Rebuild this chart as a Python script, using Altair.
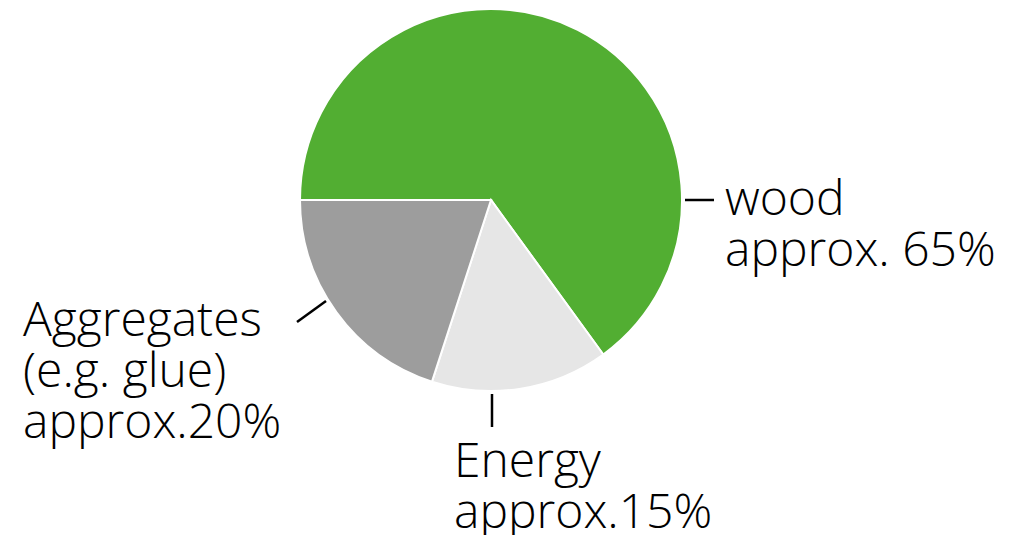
import math
import altair as alt
import pandas as pd

categories = ["wood", "Energy", "Aggregates"]
shares = [65, 15, 20]
colors = ["#52AE32", "#E6E6E6", "#9D9D9D"]
labels = ["wood\napprox. 65%", "Energy\napprox.15%", "Aggregates\n(e.g. glue)\napprox.20%"]

df = pd.DataFrame({
    "category": categories,
    "share": shares,
    "idx": list(range(len(categories))),
    "label": labels,
})

base = alt.Chart(df)
start = 1.5 * math.pi

pie = base.mark_arc(radius=191, stroke="white", strokeWidth=2).encode(
    theta=alt.Theta("share:Q", stack=True, scale=alt.Scale(range=[start, start + 2 * math.pi])),
    order=alt.Order("idx:Q"),
    color=alt.Color("category:N", scale=alt.Scale(domain=categories, range=colors), legend=None),
    x=alt.value(491),
    y=alt.value(200),
)

FONT = "Open Sans"
FS = 48
LH = 51

def lead(x, y, x2, y2, cat):
    return base.transform_filter(alt.datum.category == cat).mark_rule(
        color="black", strokeWidth=2.5
    ).encode(x=alt.value(x), y=alt.value(y), x2=alt.value(x2), y2=alt.value(y2))

def lab(x, y, cat):
    return base.transform_filter(alt.datum.category == cat).mark_text(
        font=FONT, fontSize=FS, fontWeight=300, align="left", baseline="alphabetic",
        lineBreak="\n", lineHeight=LH, color="black"
    ).encode(text="label:N", x=alt.value(x), y=alt.value(y))

chart = alt.layer(
    pie,
    lead(685, 200, 714, 200, "wood"),
    lead(297, 322, 326, 301, "Aggregates"),
    lead(492, 394, 492, 427, "Energy"),
    lab(725, 215, "wood"),
    lab(454, 477, "Energy"),
    lab(23, 336, "Aggregates"),
).properties(
    width=1023, height=535, padding=0,
    autosize=alt.AutoSizeParams(type="none"),
).configure_view(stroke=None)

chart.save("out.html", embed_options={"renderer": "svg", "actions": False})
